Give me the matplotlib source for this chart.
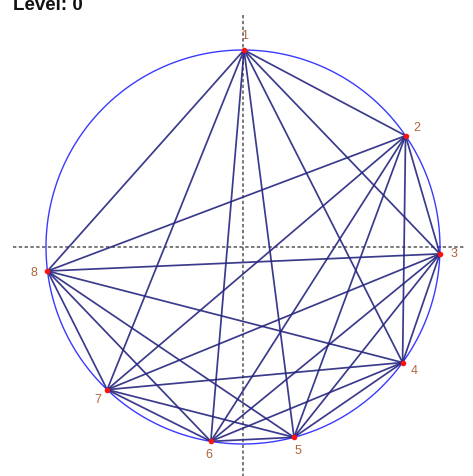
import numpy as np
import matplotlib
matplotlib.use("Agg")
import matplotlib.pyplot as plt
from itertools import combinations

# Vertex positions on the unit circle (degrees, counter-clockwise from +x)
labels = ["1", "2", "3", "4", "5", "6", "7", "8"]
angles = [89.7, 34.4, -2.0, -35.9, -75.0, -99.4, -133.6, -173.0]
# Edges: every pair of vertices is joined
edges = list(combinations(range(len(labels)), 2))
title = "Level: 0"

plt.rcParams['font.family'] = ['Liberation Sans', 'DejaVu Sans']

fig = plt.figure(figsize=(4.73, 4.76), dpi=100)
ax = fig.add_axes([0, 0, 1, 1])
ax.set_xlim(-1.2335, 1.1675)
ax.set_ylim(-1.1624, 1.2538)
ax.set_aspect("equal")
ax.axis("off")

theta = np.radians(angles)
xs = np.cos(theta)
ys = np.sin(theta)

# dashed axes
ax.plot([-1.17, 1.12], [0, 0], color="#555555", lw=1.1, ls=(0, (2.2, 1.6)), zorder=1)
ax.plot([0, 0], [-1.2, 1.19], color="#555555", lw=1.1, ls=(0, (2.2, 1.6)), zorder=1)

# circle
t = np.linspace(0, 2 * np.pi, 400)
ax.plot(np.cos(t), np.sin(t), color="#3a3aff", lw=1.0, zorder=2)

# edges
for i, j in edges:
    ax.plot([xs[i], xs[j]], [ys[i], ys[j]], color="#262680", lw=1.25,
            alpha=0.9, zorder=3, solid_capstyle="round")

# vertices
ax.plot(xs, ys, "o", color="#ff1010", ms=4, mec="none", zorder=4)

# labels, pushed out radially
for k, lab in enumerate(labels):
    r = 1.07
    ax.text(r * xs[k], r * ys[k], lab, color="#b0643c",
            fontsize=9, ha="center", va="center", zorder=5)

fig.text(0.027, 1 - 10 / 476, title, fontsize=13.5, fontweight="bold",
         color="#111111", ha="left", va="baseline")

fig.savefig("out.png", dpi=100)
